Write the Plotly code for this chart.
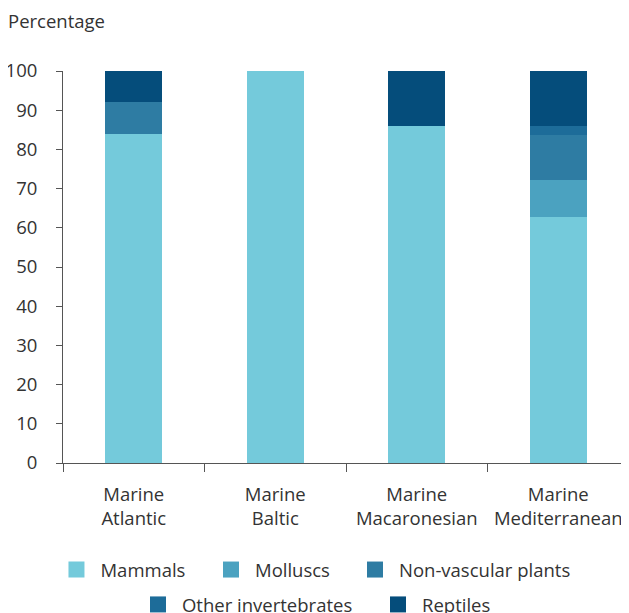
import plotly.graph_objects as go

categories = ["Marine<br>Atlantic", "Marine<br>Baltic", "Marine<br>Macaronesian", "Marine<br>Mediterranean"]
mammals = [84.0, 100, 86.0, 62.8]
molluscs = [0, 0, 0, 9.4]
non_vascular = [8.0, 0, 0, 11.5]
other_invert = [0, 0, 0, 2.3]
reptiles = [8.0, 0, 14.0, 14.0]

series = [
    ("Mammals", mammals, "#74cadb"),
    ("Molluscs", molluscs, "#4ba2c0"),
    ("Non-vascular plants", non_vascular, "#2e7ca3"),
    ("Other invertebrates", other_invert, "#1d6c99"),
    ("Reptiles", reptiles, "#054d7b"),
]
legend_ids = ["legend2", "legend3", "legend4", "legend5", "legend6"]
# legend placement (paper coords)
legend_x = [-0.0186, 0.2544, 0.5088, 0.1254, 0.5495]
legend_y = [-0.273, -0.273, -0.273, -0.362, -0.362]

fig = go.Figure()
for name, vals, color in series:
    fig.add_trace(go.Bar(
        x=categories, y=vals, name=name, marker_color=color,
        marker_line_width=0, showlegend=False, hoverinfo="skip",
    ))
# legend entries (square swatches)
for (name, vals, color), lg in zip(series, legend_ids):
    fig.add_trace(go.Scatter(
        x=[None], y=[None], mode="markers", name=name, legend=lg,
        marker=dict(symbol="square", size=16, color=color, line_width=0),
        hoverinfo="skip",
    ))

font = dict(family="Open Sans, Noto Sans, sans-serif", size=18.5, color="#333333")

legends = {}
for lg, lx, ly in zip(legend_ids, legend_x, legend_y):
    legends[lg] = dict(orientation="h", x=lx, xanchor="left", y=ly, yanchor="middle",
                       font=font, bgcolor="rgba(0,0,0,0)", itemwidth=38,
                       itemsizing="trace")

# page body has an 8px margin; figure sized to fill the remaining window
fig.update_layout(
    barmode="stack",
    bargap=0.6,
    width=621, height=605,
    margin=dict(l=55, r=0, t=63, b=150, autoexpand=False),
    paper_bgcolor="white", plot_bgcolor="white",
    font=font,
    yaxis=dict(range=[0, 100], dtick=10, showgrid=False, zeroline=False,
               showline=True, linecolor="#555555", linewidth=1,
               ticks="outside", ticklen=6, tickcolor="#555555",
               ticklabelstandoff=15, tickfont=font),
    xaxis=dict(showgrid=False, showline=True, linecolor="#555555", linewidth=1,
               ticks="outside", tickson="boundaries", ticklen=8, tickcolor="#555555",
               ticklabelstandoff=15, tickfont=font),
    annotations=[dict(text="Percentage", xref="paper", yref="paper", x=-0.1, y=1.13,
                      xanchor="left", yanchor="middle", showarrow=False, font=font)],
    **legends,
)

fig.write_html("out.html")
